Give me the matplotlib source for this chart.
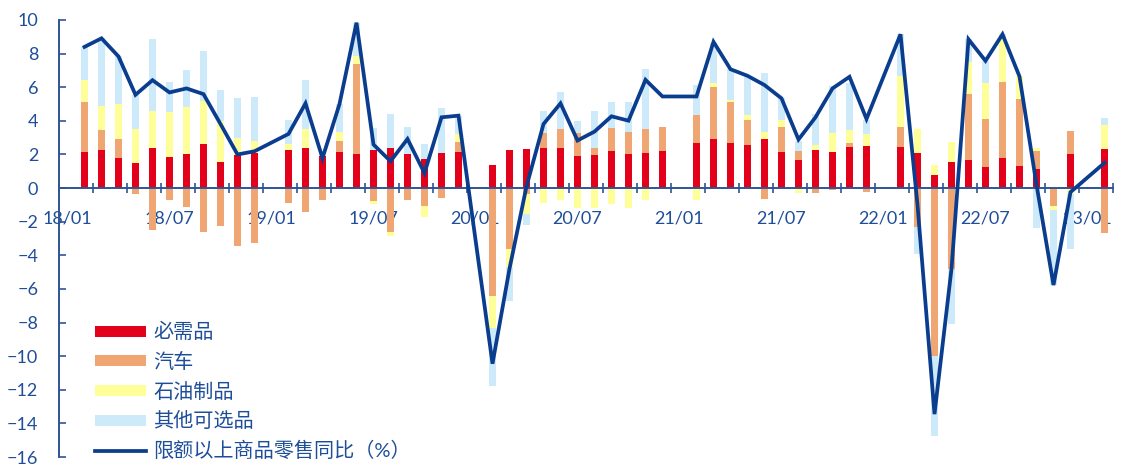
import numpy as np
import matplotlib
matplotlib.use("Agg")
import matplotlib.pyplot as plt
from matplotlib.font_manager import FontProperties

nan = np.nan

months = ["18/01", "18/02", "18/03", "18/04", "18/05", "18/06", "18/07", "18/08", "18/09", "18/10", "18/11", "18/12",
          "19/01", "19/02", "19/03", "19/04", "19/05", "19/06", "19/07", "19/08", "19/09", "19/10", "19/11", "19/12",
          "20/01", "20/02", "20/03", "20/04", "20/05", "20/06", "20/07", "20/08", "20/09", "20/10", "20/11", "20/12",
          "21/01", "21/02", "21/03", "21/04", "21/05", "21/06", "21/07", "21/08", "21/09", "21/10", "21/11", "21/12",
          "22/01", "22/02", "22/03", "22/04", "22/05", "22/06", "22/07", "22/08", "22/09", "22/10", "22/11", "22/12",
          "23/01", "23/02"]

tick_labels = ["18/01", "18/07", "19/01", "19/07", "20/01", "20/07",
               "21/01", "21/07", "22/01", "22/07", "23/01"]

necessities = [nan, 2.13, 2.25, 1.76, 1.50, 2.37, 1.86, 2.04, 2.61, 1.56, 1.94, 2.09,
               nan, 2.27, 2.41, 1.88, 2.17, 2.04, 2.27, 2.41, 2.02, 1.72, 2.09, 2.13,
               nan, 1.38, 2.29, 2.33, 2.37, 2.37, 1.88, 1.94, 2.23, 2.04, 2.09, 2.23,
               nan, 2.67, 2.92, 2.69, 2.57, 2.92, 2.17, 1.70, 2.29, 2.17, 2.47, 2.49,
               nan, 2.47, 2.08, 0.75, 1.58, 1.70, 1.25, 1.78, 1.34, 1.15, 0.00, 2.00,
               nan, 2.33]

autos = [nan, 3.00, 1.21, 1.16, -0.34, -2.47, -0.69, -1.13, -2.61, -2.27, -3.44, -3.24,
         nan, -0.89, -1.44, -0.71, 0.66, 5.33, -0.77, -2.61, -0.73, -1.07, -0.57, 0.64,
         nan, -6.42, -3.64, -0.34, 0.91, 1.15, 1.40, 0.43, 1.35, 1.32, 1.43, 1.39,
         nan, 1.70, 3.12, 2.45, 1.50, -0.67, 1.49, 0.53, -0.28, -0.14, 0.22, -0.24,
         nan, 1.19, -2.31, -9.98, -4.82, 3.89, 2.86, 4.56, 3.96, 1.08, -1.09, 1.38,
         nan, -2.67]

petroleum = [nan, 1.32, 1.40, 2.06, 2.04, 2.20, 2.69, 2.80, 2.59, 2.45, 1.06, 0.70,
             nan, 0.38, 1.11, 0.00, 0.49, 0.46, -0.16, -0.24, 0.00, -0.65, 0.00, 0.45,
             nan, -1.88, -1.04, -1.18, -0.86, -0.73, -1.19, -1.19, -0.93, -1.19, -0.69, 0.00,
             nan, -0.73, 0.20, 0.10, 0.28, 0.40, 0.41, -0.28, 0.28, 1.11, 0.77, 0.73,
             nan, 2.98, 1.44, 0.65, 1.19, 1.92, 2.14, 2.51, 1.34, 0.14, -0.19, -0.34,
             nan, 1.44]

other_optional = [nan, 1.94, 4.05, 2.85, 2.01, 4.28, 1.79, 2.18, 2.96, 1.82, 2.38, 2.61,
                  nan, 1.40, 2.90, 0.00, 1.68, 2.01, 1.29, 2.00, 1.64, 0.91, 2.65, 1.09,
                  nan, -3.50, -2.04, -0.69, 1.32, 2.17, 0.69, 2.20, 1.56, 1.78, 3.55, 0.00,
                  nan, 1.76, 2.40, 1.83, 2.33, 3.50, 1.27, 0.60, 1.84, 2.77, 2.82, 0.83,
                  nan, 2.51, -1.62, -4.78, -3.28, 1.34, 1.32, 0.30, 0.00, -2.37, -4.49, -3.26,
                  nan, 0.38]

retail_yoy = [nan, 8.40, 8.91, 7.83, 5.55, 6.42, 5.69, 5.93, 5.59, 3.81, 2.00, 2.19,
              nan, 3.22, 5.04, 1.78, 5.00, 9.84, 2.59, 1.60, 2.92, 0.89, 4.21, 4.31,
              nan, -10.45, -4.80, 0.10, 3.81, 5.04, 2.83, 3.36, 4.27, 4.01, 6.44, 5.45,
              nan, 5.45, 8.70, 7.07, 6.68, 6.13, 5.34, 2.89, 4.21, 5.93, 6.62, 4.11,
              nan, 9.15, -1.00, -13.45, -4.80, 8.85, 7.57, 9.15, 6.64, 0.20, -5.77, -0.24,
              nan, 1.50]

bar_labels = ["必需品", "汽车", "石油制品", "其他可选品"]
line_label = "限额以上商品零售同比（%）"

bar_colors = ["#E2001A", "#EFA672", "#FFFF99", "#CDEAFB"]
line_color = "#0B3D8F"
axis_color = "#2F5597"
text_color = "#1F4E99"

fam = ["Lato", "Noto Sans CJK SC", "DejaVu Sans"]
plt.rcParams["font.family"] = fam

fig = plt.figure(figsize=(11.25, 4.67), dpi=100)
W, H = 1125, 467
ax = fig.add_axes([59 / W, 1 - 457 / H, (1113 - 59) / W, (457 - 20) / H])

x = np.arange(len(months))
pos_base = np.zeros(len(months))
neg_base = np.zeros(len(months))
handles = []
for vals, col, lab in zip([necessities, autos, petroleum, other_optional], bar_colors, bar_labels):
    v = np.nan_to_num(np.array(vals, dtype=float))
    bottom = np.where(v >= 0, pos_base, neg_base)
    bc = ax.bar(x, v, width=0.4, bottom=bottom, color=col, label=lab, zorder=2, linewidth=0)
    handles.append(bc)
    pos_base += np.clip(v, 0, None)
    neg_base += np.clip(v, None, 0)

ly = np.array(retail_yoy, dtype=float)
m = ~np.isnan(ly)
ln, = ax.plot(x[m], ly[m], color=line_color, lw=2.7, zorder=5, label=line_label,
              solid_joinstyle="miter")
handles.append(ln)

ax.set_xlim(-0.5, len(months) - 0.5)
ax.set_ylim(-16, 10)

for s in ["top", "right"]:
    ax.spines[s].set_visible(False)
ax.spines["bottom"].set_position(("data", 0))
ax.spines["bottom"].set_color(axis_color)
ax.spines["left"].set_color(axis_color)
ax.spines["bottom"].set_linewidth(1.4)
ax.spines["left"].set_linewidth(1.4)

ax.set_yticks(np.arange(-16, 11, 2))
ax.tick_params(axis="y", direction="in", length=5, width=1.2, color=axis_color,
               labelcolor=text_color, labelsize=13, pad=15)

major_pos = [months.index(t) for t in tick_labels]
ax.set_xticks(major_pos)
ax.set_xticklabels(tick_labels)
ax.set_xticks(np.arange(-0.5, len(months), 2), minor=True)
ax.tick_params(axis="x", which="major", length=0, labelcolor=text_color, labelsize=13, pad=16)
ax.tick_params(axis="x", which="minor", direction="inout", length=7, width=1.2, color=axis_color)

leg = ax.legend(handles, bar_labels + [line_label], loc="upper left",
                bbox_to_anchor=(95 / W, 1 - 322 / H), bbox_transform=fig.transFigure,
                frameon=False, handlelength=2.54, handleheight=0.47, handletextpad=0.35,
                labelspacing=0.53, borderpad=0, borderaxespad=0,
                prop=FontProperties(family=fam, size=14.5))
for t in leg.get_texts():
    t.set_color(text_color)

fig.savefig("out.png", dpi=100)
